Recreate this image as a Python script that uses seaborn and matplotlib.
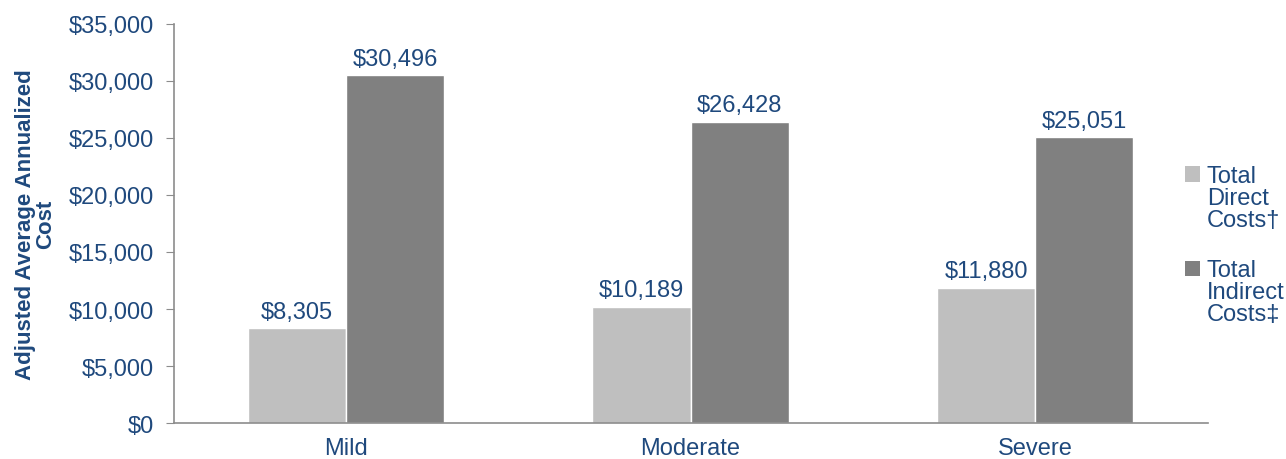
import pandas as pd
import matplotlib.pyplot as plt
import seaborn as sns
from matplotlib.patches import Rectangle
from matplotlib.legend_handler import HandlerPatch

# Values
severity = ["Mild", "Moderate", "Severe"]
direct_costs = [8305, 10189, 11880]
indirect_costs = [30496, 26428, 25051]
series_names = ["Total\nDirect\nCosts\u2020", "Total\nIndirect\nCosts\u2021"]

df = pd.DataFrame({
    "Severity": severity * 2,
    "Cost": direct_costs + indirect_costs,
    "Series": [series_names[0]] * 3 + [series_names[1]] * 3,
})

sns.set_style("white")
plt.rcParams["font.family"] = ["Liberation Sans", "DejaVu Sans"]
text_color = "#1F497D"
axis_color = "#8C8C8C"
fs = 17


class TopAlignedHandler(HandlerPatch):
    # put the legend square next to the first line of a wrapped label
    def create_artists(self, legend, orig_handle, xdescent, ydescent,
                       width, height, fontsize, trans):
        p = Rectangle((-xdescent, -ydescent + 17.5), width, height,
                      facecolor=orig_handle.get_facecolor(), edgecolor="none",
                      transform=trans)
        return [p]


fig = plt.figure(figsize=(12.86, 4.6), dpi=100)
ax = fig.add_axes([0.135, 0.078, 0.804, 0.868])

sns.barplot(
    data=df, x="Severity", y="Cost", hue="Series",
    palette=["#BFBFBF", "#808080"], width=0.57, saturation=1,
    ax=ax, legend=True,
)

for cont in ax.containers:
    ax.bar_label(cont, labels=[f"${v:,.0f}" for v in cont.datavalues],
                 padding=4, fontsize=fs, color=text_color)

ax.set_ylim(0, 35000)
ax.set_yticks(range(0, 35001, 5000))
ax.set_yticklabels([f"${v:,}" for v in range(0, 35001, 5000)])
ax.set_xlim(-0.5, 2.5)
ax.set_xlabel("")
ax.set_ylabel("Adjusted Average Annualized\nCost", fontsize=16, fontweight="bold",
              color=text_color, labelpad=9, linespacing=0.95)

# minor ticks at category boundaries, no major ticks on x
ax.set_xticks([-0.5, 0.5, 1.5, 2.5], minor=True)
ax.tick_params(axis="x", which="major", length=0, labelsize=fs,
               labelcolor=text_color, pad=10)
ax.tick_params(axis="x", which="minor", length=6, color=axis_color, direction="out")
ax.tick_params(axis="y", length=6, color=axis_color, direction="out",
               labelsize=fs, labelcolor=text_color, pad=8)
ax.tick_params(axis="both", bottom=True, left=True)

for side in ["top", "right"]:
    ax.spines[side].set_visible(False)
for side in ["left", "bottom"]:
    ax.spines[side].set_color(axis_color)
    ax.spines[side].set_linewidth(1.2)

handles, labels = ax.get_legend_handles_labels()
leg = ax.legend(handles, labels, loc="upper left",
                bbox_to_anchor=(1185 / 1286, 1 - 166 / 460),
                bbox_transform=fig.transFigure, frameon=False, borderpad=0,
                borderaxespad=0, fontsize=fs, handlelength=0.62, handleheight=0.62,
                handletextpad=0.3, labelspacing=1.2,
                handler_map={Rectangle: TopAlignedHandler()})
for t in leg.get_texts():
    t.set_color(text_color)
    t.set_linespacing(1.0)

fig.savefig("out.png", dpi=100)
